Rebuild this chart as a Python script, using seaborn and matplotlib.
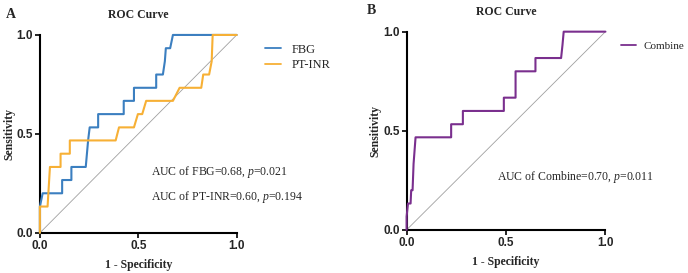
import matplotlib
matplotlib.use("Agg")
import matplotlib.pyplot as plt
from matplotlib.lines import Line2D
import pandas as pd
import seaborn as sns

sns.set_theme(style="ticks")
plt.rcParams["font.family"] = ["Liberation Serif", "DejaVu Serif"]
plt.rcParams["mathtext.fontset"] = "custom"
plt.rcParams["mathtext.it"] = "Liberation Serif:italic"

# ROC points (1 - specificity, sensitivity)
fbg_x = [0.0, 0.0, 0.014, 0.113, 0.113, 0.16, 0.16, 0.233, 0.245, 0.253, 0.296, 0.296,
         0.426, 0.426, 0.478, 0.478, 0.591, 0.591, 0.625, 0.635, 0.64, 0.662, 0.676, 1.0]
fbg_y = [0.0, 0.133, 0.2, 0.2, 0.267, 0.267, 0.333, 0.333, 0.467, 0.533, 0.533, 0.6,
         0.6, 0.667, 0.667, 0.733, 0.733, 0.8, 0.8, 0.867, 0.933, 0.933, 1.0, 1.0]

inr_x = [0.0, 0.0, 0.039, 0.043, 0.051, 0.105, 0.105, 0.152, 0.152, 0.385, 0.402, 0.478,
         0.498, 0.52, 0.54, 0.676, 0.71, 0.82, 0.83, 0.86, 0.873, 0.878, 1.0]
inr_y = [0.0, 0.133, 0.133, 0.2, 0.333, 0.333, 0.4, 0.4, 0.467, 0.467, 0.533, 0.533,
         0.6, 0.6, 0.667, 0.667, 0.733, 0.733, 0.8, 0.8, 0.867, 1.0, 1.0]

comb_x = [0.0, 0.0, 0.007, 0.02, 0.023, 0.03, 0.035, 0.04, 0.045, 0.224, 0.224, 0.283,
          0.283, 0.489, 0.489, 0.548, 0.548, 0.648, 0.648, 0.777, 0.784, 0.79, 1.0]
comb_y = [0.0, 0.067, 0.133, 0.133, 0.2, 0.2, 0.333, 0.4, 0.467, 0.467, 0.533, 0.533,
          0.6, 0.6, 0.667, 0.667, 0.8, 0.8, 0.867, 0.867, 0.933, 1.0, 1.0]

ticks = [0.0, 0.5, 1.0]
tick_labels = ["0.0", "0.5", "1.0"]

df_a = pd.concat([
    pd.DataFrame({"fpr": fbg_x, "tpr": fbg_y, "marker": "FBG"}),
    pd.DataFrame({"fpr": inr_x, "tpr": inr_y, "marker": "PT-INR"}),
], ignore_index=True)
df_b = pd.DataFrame({"fpr": comb_x, "tpr": comb_y, "marker": "Combine"})

palette = {"FBG": "#3b7fc0", "PT-INR": "#f7b035", "Combine": "#7a2f8e"}

fig = plt.figure(figsize=(6.88, 2.73), dpi=100)
ax_a = fig.add_axes([0.058, 0.147, 0.286, 0.725])
ax_b = fig.add_axes([0.591, 0.158, 0.289, 0.726])


def style_ax(ax):
    ax.plot([0, 1], [0, 1], color="#a0a0a0", lw=0.6, zorder=1)
    ax.set_xlim(0, 1)
    ax.set_ylim(0, 1)
    sns.despine(ax=ax)
    for s in ("left", "bottom"):
        ax.spines[s].set_linewidth(1.5)
        ax.spines[s].set_color("black")
    ax.set_xticks(ticks)
    ax.set_yticks(ticks)
    ax.set_xticklabels(tick_labels, family="Liberation Sans", weight="bold", fontsize=8.5)
    ax.set_yticklabels(tick_labels, family="Liberation Sans", weight="bold", fontsize=8.5)
    ax.tick_params(direction="out", length=3.5, width=1.2, color="black", pad=1.5)
    ax.set_xlabel("1 - Specificity", fontsize=8.5, weight="bold", labelpad=5)
    ax.set_ylabel("Sensitivity", fontsize=8.5, weight="bold", labelpad=1)
    ax.set_title("ROC Curve", fontsize=8.5, weight="bold", pad=12)


sns.lineplot(data=df_a, x="fpr", y="tpr", hue="marker", estimator=None,
             sort=False, palette=palette, lw=1.5, ax=ax_a, legend=False)
sns.lineplot(data=df_b, x="fpr", y="tpr", hue="marker", estimator=None,
             sort=False, palette=palette, lw=1.5, ax=ax_b, legend=False)

for ax in (ax_a, ax_b):
    for ln in ax.lines:
        ln.set_clip_on(False)
        ln.set_zorder(3)

style_ax(ax_a)
style_ax(ax_b)

h_a = [Line2D([], [], color=palette[k], lw=1.3) for k in ("FBG", "PT-INR")]
ax_a.legend(h_a, ["FBG", "PT-INR"], loc="upper left", bbox_to_anchor=(1.1, 1.0),
            frameon=False, fontsize=9, handlelength=1.3, handletextpad=0.8,
            labelspacing=0.3, borderpad=0.2)
h_b = [Line2D([], [], color=palette["Combine"], lw=1.3)]
ax_b.legend(h_b, ["Combine"], loc="upper left", bbox_to_anchor=(1.04, 0.99),
            frameon=False, fontsize=8, handlelength=1.3, handletextpad=0.7, borderpad=0.2)

ax_a.text(0.565, 0.29, "AUC of FBG=0.68, $\\it{p}$=0.021", transform=ax_a.transAxes, fontsize=8.5)
ax_a.text(0.565, 0.165, "AUC of PT-INR=0.60, $\\it{p}$=0.194", transform=ax_a.transAxes, fontsize=8.5)
ax_b.text(0.455, 0.25, "AUC of Combine=0.70, $\\it{p}$=0.011", transform=ax_b.transAxes, fontsize=8.5)

fig.text(0.008, 0.935, "A", fontsize=10, weight="bold")
fig.text(0.533, 0.95, "B", fontsize=10, weight="bold")

fig.savefig("out.png", dpi=100)
